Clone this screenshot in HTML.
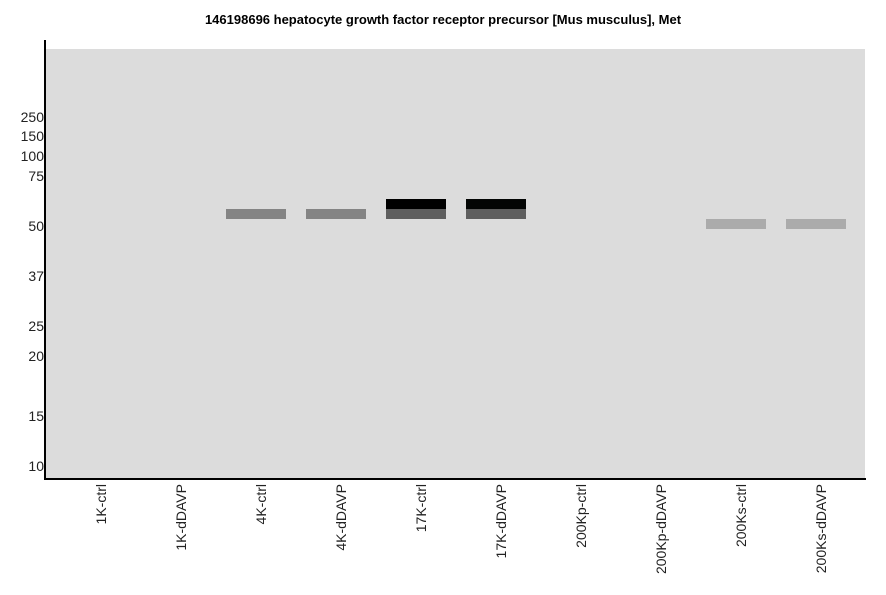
<!DOCTYPE html>
<html><head><style>
body{margin:0;width:886px;height:595px;background:#fff;position:relative;font-family:"Liberation Sans",sans-serif;overflow:hidden}
.t{position:absolute;top:12px;left:0;width:886px;text-align:center;font-size:13px;font-weight:bold}
.plot{position:absolute;left:46px;top:49px;width:819px;height:430px;background:#dcdcdc}
.ax{position:absolute;background:#000}
.yl{position:absolute;right:842px;font-size:14px;color:#222;line-height:14px}
.b{position:absolute;width:60px;height:10px}
.xl{position:absolute;top:484px;font-size:14px;color:#222;writing-mode:vertical-rl;transform:rotate(180deg);line-height:14px}
</style></head><body>
<div class="t">146198696 hepatocyte growth factor receptor precursor [Mus musculus], Met</div>
<div class="plot"></div>
<div class="ax" style="left:44px;top:40px;width:2px;height:440px"></div>
<div class="ax" style="left:44px;top:478px;width:822px;height:2px"></div>
<div class="yl" style="top:110px">250</div>
<div class="yl" style="top:129px">150</div>
<div class="yl" style="top:149px">100</div>
<div class="yl" style="top:169px">75</div>
<div class="yl" style="top:219px">50</div>
<div class="yl" style="top:269px">37</div>
<div class="yl" style="top:319px">25</div>
<div class="yl" style="top:349px">20</div>
<div class="yl" style="top:409px">15</div>
<div class="yl" style="top:459px">10</div>
<div class="b" style="left:226px;top:209px;background:#848484"></div>
<div class="b" style="left:306px;top:209px;background:#848484"></div>
<div class="b" style="left:386px;top:199px;background:#000"></div>
<div class="b" style="left:386px;top:209px;background:#5e5e5e"></div>
<div class="b" style="left:466px;top:199px;background:#030504"></div>
<div class="b" style="left:466px;top:209px;background:#5e5e5e"></div>
<div class="b" style="left:706px;top:219px;background:#ababab"></div>
<div class="b" style="left:786px;top:219px;background:#ababab"></div>
<div class="xl" style="left:94px">1K-ctrl</div>
<div class="xl" style="left:174px">1K-dDAVP</div>
<div class="xl" style="left:254px">4K-ctrl</div>
<div class="xl" style="left:334px">4K-dDAVP</div>
<div class="xl" style="left:414px">17K-ctrl</div>
<div class="xl" style="left:494px">17K-dDAVP</div>
<div class="xl" style="left:574px">200Kp-ctrl</div>
<div class="xl" style="left:654px">200Kp-dDAVP</div>
<div class="xl" style="left:734px">200Ks-ctrl</div>
<div class="xl" style="left:814px">200Ks-dDAVP</div>
</body></html>
